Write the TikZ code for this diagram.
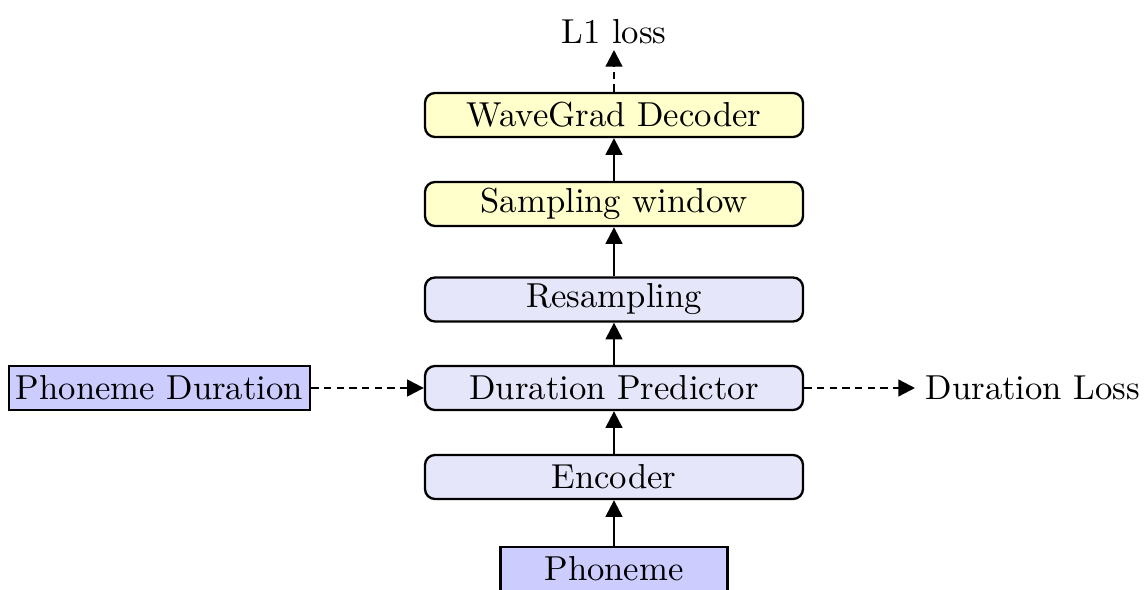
\documentclass[tikz,border=0pt]{standalone}
\usetikzlibrary{arrows.meta}
\definecolor{boxyellow}{RGB}{255,255,204}
\definecolor{boxlav}{RGB}{230,230,250}
\definecolor{boxblue}{RGB}{204,204,255}
\tikzset{
  blk/.style={draw, line width=0.7pt, rounded corners=3pt, minimum width=113.4pt, minimum height=13.2pt, inner sep=0pt, font=\fontsize{10.4}{12}\selectfont},
  ylw/.style={blk, fill=boxyellow},
  lav/.style={blk, fill=boxlav},
  inbox/.style={draw, line width=0.7pt, fill=boxblue, minimum height=13.2pt, inner sep=0pt, font=\fontsize{10.4}{12}\selectfont},
  lbl/.style={inner sep=0pt, font=\fontsize{10.4}{12}\selectfont},
  arr/.style={-{Triangle[length=5pt,width=5pt]}, line width=0.7pt},
  darr/.style={arr, dashed, dash pattern=on 2.2pt off 1.6pt},
}
\begin{document}
\begin{tikzpicture}[x=0.3pt,y=-0.3pt]
\useasboundingbox (0,0) rectangle (1146,590);
\node[ylw] (dec) at (614,115) {WaveGrad Decoder};
\node[ylw] (samp) at (614,204) {Sampling window};
\node[lav] (res) at (614,299.5) {Resampling};
\node[lav] (dur) at (614,388) {Duration Predictor};
\node[lav] (enc) at (614,477) {Encoder};
\node[inbox, minimum width=68.1pt] (ph) at (614,569) {Phoneme};
\node[inbox, minimum width=90.3pt] (pd) at (159.5,388) {Phoneme Duration};
\node[lbl, anchor=west] (dl) at (925,388) {Duration Loss};
\node[lbl] (l1) at (614,32) {L1 loss};
\coordinate (l1b) at (614,50);
\coordinate (dlw) at (915,388);
\draw[arr] (ph) -- (enc);
\draw[arr] (enc) -- (dur);
\draw[arr] (dur) -- (res);
\draw[arr] (res) -- (samp);
\draw[arr] (samp) -- (dec);
\draw[darr] (dec.north) -- (l1b);
\draw[darr] (pd) -- (dur);
\draw[darr] (dur.east) -- (dlw);
\end{tikzpicture}
\end{document}
